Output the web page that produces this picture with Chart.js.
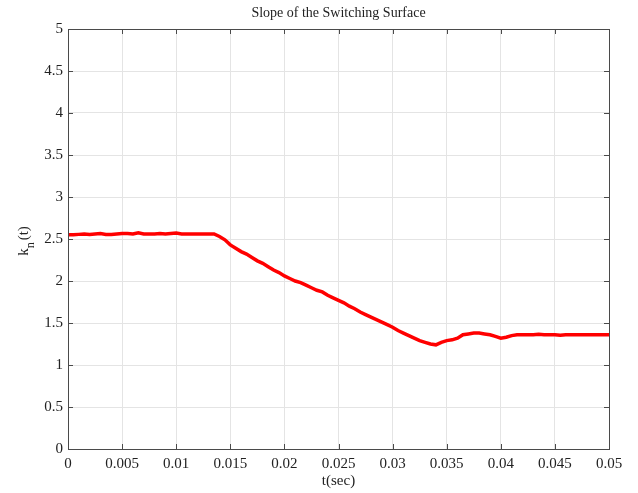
<!DOCTYPE html>
<html>
<head>
<meta charset="utf-8">
<title>Slope of the Switching Surface</title>
<script src="https://cdn.jsdelivr.net/npm/chart.js@4/dist/chart.umd.min.js"></script>
<style>
  html, body { margin: 0; padding: 0; background: #fff; }
  #wrap { width: 638px; height: 493px; position: relative; }
</style>
</head>
<body>
<div id="wrap"><canvas id="kn"></canvas></div>
<script>
/* ====== DATA ====== */
const tSec = [
  0, 0.0005, 0.001, 0.0015, 0.002, 0.0025, 0.003, 0.0035, 0.004, 0.0045,
  0.005, 0.0055, 0.006, 0.0065, 0.007, 0.0075, 0.008, 0.0085, 0.009, 0.0095,
  0.01, 0.0105, 0.011, 0.0115, 0.012, 0.0125, 0.013, 0.0135, 0.014, 0.0145,
  0.015, 0.0155, 0.016, 0.0165, 0.017, 0.0175, 0.018, 0.0185, 0.019, 0.0195,
  0.02, 0.0205, 0.021, 0.0215, 0.022, 0.0225, 0.023, 0.0235, 0.024, 0.0245,
  0.025, 0.0255, 0.026, 0.0265, 0.027, 0.0275, 0.028, 0.0285, 0.029, 0.0295,
  0.03, 0.0305, 0.031, 0.0315, 0.032, 0.0325, 0.033, 0.0335, 0.034, 0.0345,
  0.035, 0.0355, 0.036, 0.0365, 0.037, 0.0375, 0.038, 0.0385, 0.039, 0.0395,
  0.04, 0.0405, 0.041, 0.0415, 0.042, 0.0425, 0.043, 0.0435, 0.044, 0.0445,
  0.045, 0.0455, 0.046, 0.0465, 0.047, 0.0475, 0.048, 0.0485, 0.049, 0.0495,
  0.05
];
const knValues = [
  2.55, 2.55, 2.555, 2.56, 2.555, 2.56, 2.565, 2.555, 2.555, 2.56,
  2.565, 2.565, 2.56, 2.575, 2.56, 2.56, 2.56, 2.565, 2.56, 2.565,
  2.57, 2.56, 2.56, 2.56, 2.56, 2.56, 2.56, 2.56, 2.53, 2.49,
  2.43, 2.39, 2.35, 2.32, 2.28, 2.24, 2.21, 2.17, 2.13, 2.10,
  2.06, 2.03, 2.00, 1.98, 1.95, 1.92, 1.89, 1.87, 1.83, 1.80,
  1.77, 1.74, 1.70, 1.67, 1.63, 1.60, 1.57, 1.54, 1.51, 1.48,
  1.45, 1.41, 1.38, 1.35, 1.32, 1.29, 1.27, 1.25, 1.24, 1.27,
  1.29, 1.30, 1.32, 1.36, 1.37, 1.38, 1.38, 1.37, 1.36, 1.34,
  1.32, 1.33, 1.35, 1.36, 1.36, 1.36, 1.36, 1.365, 1.36, 1.36,
  1.36, 1.355, 1.36, 1.36, 1.36, 1.36, 1.36, 1.36, 1.36, 1.36,
  1.36
];
const xTicks = [0, 0.005, 0.01, 0.015, 0.02, 0.025, 0.03, 0.035, 0.04, 0.045, 0.05];
const yTicks = [0, 0.5, 1, 1.5, 2, 2.5, 3, 3.5, 4, 4.5, 5];

const SERIF = "'Liberation Serif', 'DejaVu Serif', serif";
const AXIS_COLOR = "#4a4a4a";

/* ====== FRAME, INWARD TICKS, TITLES ====== */
const matlabFrame = {
  id: "matlabFrame",
  afterDraw(chart){
    const { ctx, chartArea: a, scales: { x, y } } = chart;
    ctx.save();
    ctx.strokeStyle = AXIS_COLOR;
    ctx.lineWidth = 1;
    ctx.strokeRect(a.left + 0.5, a.top + 0.5, a.right - a.left, a.bottom - a.top);
    const len = 5;
    ctx.beginPath();
    xTicks.forEach(v => {
      const px = Math.round(x.getPixelForValue(v)) + 0.5;
      ctx.moveTo(px, a.bottom); ctx.lineTo(px, a.bottom - len);
      ctx.moveTo(px, a.top); ctx.lineTo(px, a.top + len);
    });
    yTicks.forEach(v => {
      const py = Math.round(y.getPixelForValue(v)) + 0.5;
      ctx.moveTo(a.left, py); ctx.lineTo(a.left + len, py);
      ctx.moveTo(a.right, py); ctx.lineTo(a.right - len, py);
    });
    ctx.stroke();

    ctx.fillStyle = "#222";
    const cx = (a.left + a.right) / 2;
    ctx.textAlign = "center";
    ctx.textBaseline = "middle";
    ctx.font = "14px " + SERIF;
    ctx.fillText("Slope of the Switching Surface", cx, 13);
    ctx.font = "15px " + SERIF;
    ctx.fillText("t(sec)", cx, 481);

    // y label k_n(t), rotated, with subscript n
    ctx.translate(24, 241);
    ctx.rotate(-Math.PI / 2);
    ctx.textAlign = "left";
    ctx.font = "15px " + SERIF;
    const wk = ctx.measureText("k").width;
    ctx.font = "12px " + SERIF;
    const wn = ctx.measureText("n").width;
    ctx.font = "15px " + SERIF;
    const wt = ctx.measureText("(t)").width;
    const sx = -(wk + wn + 2 + wt) / 2;
    ctx.fillText("k", sx, 0);
    ctx.font = "12px " + SERIF;
    ctx.fillText("n", sx + wk, 7);
    ctx.font = "15px " + SERIF;
    ctx.fillText("(t)", sx + wk + wn + 2, 0);
    ctx.restore();
  }
};

/* ====== CHART ====== */
new Chart(document.getElementById("kn"), {
  type: "line",
  data: {
    datasets: [{
      data: tSec.map((t, i) => ({ x: t, y: knValues[i] })),
      borderColor: "#ff0000",
      borderWidth: 3.5,
      pointRadius: 0,
      tension: 0,
      fill: false
    }]
  },
  options: {
    responsive: true,
    maintainAspectRatio: false,
    animation: false,
    layout: { padding: { top: 29, right: 29, left: 0, bottom: 0 } },
    plugins: { legend: { display: false }, tooltip: { enabled: false } },
    scales: {
      x: {
        type: "linear", min: 0, max: 0.05,
        afterBuildTicks: s => { s.ticks = xTicks.map(v => ({ value: v })); },
        afterFit: s => { s.height = 44; },
        grid: { color: "#e4e4e4", drawTicks: false },
        border: { display: false },
        ticks: {
          autoSkip: false, maxRotation: 0, padding: 6, color: "#222",
          font: { family: SERIF, size: 15 },
          callback: v => String(Number(v.toFixed(3)))
        }
      },
      y: {
        min: 0, max: 5,
        afterBuildTicks: s => { s.ticks = yTicks.map(v => ({ value: v })); },
        afterFit: s => { s.width = 68; },
        grid: { color: "#e4e4e4", drawTicks: false },
        border: { display: false },
        ticks: {
          padding: 5, color: "#222",
          font: { family: SERIF, size: 15 },
          callback: v => String(v)
        }
      }
    }
  },
  plugins: [matlabFrame]
});
</script>
</body>
</html>
